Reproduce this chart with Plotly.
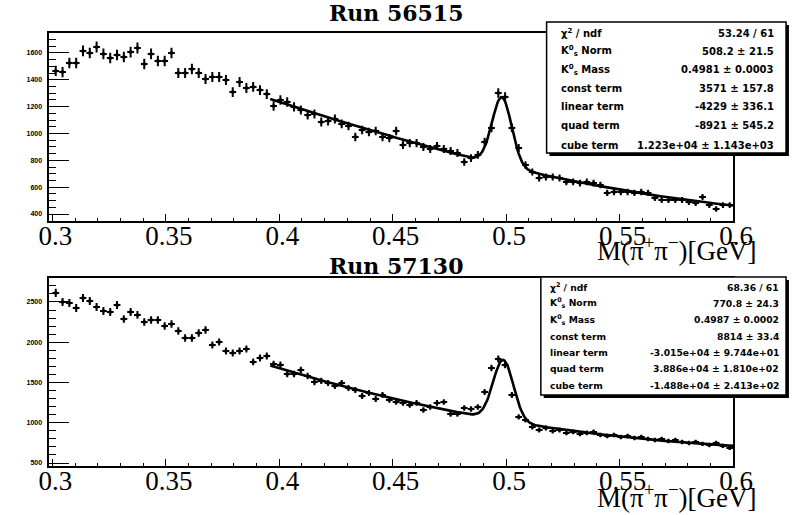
import numpy as np
import plotly.graph_objects as go

W, H = 807, 515

# ---- histogram binning shared by both runs ----
x_lo, x_hi, n_bins = 0.3, 0.6, 100
bin_w = (x_hi - x_lo) / n_bins
centers = x_lo + bin_w * (np.arange(n_bins) + 0.5)

# ---- M(pi+ pi-) spectra, entries per bin ----
counts_56515 = [
    1466, 1458, 1525, 1525, 1615, 1600, 1645, 1593, 1563, 1585,
    1570, 1607, 1637, 1518, 1593, 1540, 1540, 1600, 1451, 1451,
    1481, 1451, 1406, 1421, 1421, 1399, 1309, 1384, 1339, 1347,
    1324, 1294, 1205, 1250, 1235, 1198, 1175, 1138, 1145, 1086,
    1093, 1108, 1071, 1056, 974, 1026, 1011, 1019, 974, 966,
    1019, 914, 929, 929, 899, 884, 907, 884, 870, 855,
    788, 817, 840, 937, 1041, 1302, 1272, 1041, 892, 765,
    713, 668, 676, 676, 668, 639, 639, 631, 639, 631,
    616, 557, 564, 564, 564, 557, 564, 557, 519, 504,
    504, 504, 504, 489, 482, 527, 467, 437, 467, 467,
]
counts_57130 = [
    2612, 2500, 2488, 2425, 2550, 2512, 2438, 2388, 2376, 2463,
    2289, 2376, 2339, 2252, 2276, 2276, 2202, 2227, 2140, 2053,
    2053, 2115, 2152, 1966, 2003, 1891, 1867, 1891, 1916, 1755,
    1804, 1829, 1730, 1718, 1606, 1606, 1655, 1581, 1506, 1519,
    1494, 1457, 1494, 1432, 1407, 1333, 1370, 1295, 1345, 1283,
    1258, 1246, 1221, 1246, 1159, 1196, 1246, 1258, 1109, 1109,
    1184, 1171, 1196, 1382, 1680, 1792, 1718, 1345, 1072, 1034,
    947, 910, 935, 898, 910, 873, 886, 861, 873, 886,
    848, 836, 848, 823, 836, 811, 823, 799, 786, 799,
    774, 786, 761, 749, 761, 737, 724, 749, 712, 687,
]

# ---- fit results (gaussian K0s peak + cubic background) ----
fit_lo, fit_hi = 0.396, 0.6
fit_56515 = dict(norm=508.2, mass=0.4981, sigma=0.0043,
                 pol=[3571.0, -4229.0, -8921.0, 1.223e4])
fit_57130 = dict(norm=770.8, mass=0.4987, sigma=0.0045)

stats_56515 = [
    ("\u03c7<sup>2</sup> / ndf", "53.24 / 61"),
    ("K<sup>0</sup><sub>s</sub> Norm", "508.2 \u00b1 21.5"),
    ("K<sup>0</sup><sub>s</sub> Mass", "0.4981 \u00b1 0.0003"),
    ("const term", "3571 \u00b1 157.8"),
    ("linear term", "-4229 \u00b1 336.1"),
    ("quad term", "-8921 \u00b1 545.2"),
    ("cube term", "1.223e+04 \u00b1 1.143e+03"),
]
stats_57130 = [
    ("\u03c7<sup>2</sup> / ndf", "68.36 / 61"),
    ("K<sup>0</sup><sub>s</sub> Norm", "770.8 \u00b1 24.3"),
    ("K<sup>0</sup><sub>s</sub> Mass", "0.4987 \u00b1 0.0002"),
    ("const term", "8814 \u00b1 33.4"),
    ("linear term", "-3.015e+04 \u00b1 9.744e+01"),
    ("quad term", "3.886e+04 \u00b1 1.810e+02"),
    ("cube term", "-1.488e+04 \u00b1 2.413e+02"),
]

titles = ["Run 56515", "Run 57130"]
x_title = "M(\u03c0<sup>+</sup>\u03c0<sup>\u2212</sup>)[GeV]"


def gauss(x, norm, mass, sigma):
    return norm * np.exp(-0.5 * ((x - mass) / sigma) ** 2)


xf = np.linspace(fit_lo, fit_hi, 400)

# run 56515: evaluate the quoted fit function
p = fit_56515["pol"]
yf_top = (p[0] + p[1] * xf + p[2] * xf ** 2 + p[3] * xf ** 3
          + gauss(xf, fit_56515["norm"], fit_56515["mass"], fit_56515["sigma"]))

# run 57130: least-squares fit of cubic + gaussian shape over the fit window
c2 = np.asarray(counts_57130, float)
sel = (centers >= fit_lo) & (centers <= fit_hi)
xs = centers[sel]
g_shape = gauss(xs, 1.0, fit_57130["mass"], fit_57130["sigma"])
A = np.vstack([np.ones_like(xs), xs, xs ** 2, xs ** 3, g_shape]).T
coef, *_ = np.linalg.lstsq(A, c2[sel], rcond=None)
yf_bot = (coef[0] + coef[1] * xf + coef[2] * xf ** 2 + coef[3] * xf ** 3
          + coef[4] * gauss(xf, 1.0, fit_57130["mass"], fit_57130["sigma"]))


def px(x):
    return x / W


def py(y):
    return 1 - y / H


fig = go.Figure()

for counts, yf, xa, ya in [(counts_56515, yf_top, "x", "y"),
                           (counts_57130, yf_bot, "x2", "y2")]:
    c = np.asarray(counts, float)
    fig.add_trace(go.Scatter(
        x=centers, y=c, mode="markers", xaxis=xa, yaxis=ya,
        marker=dict(size=3, color="black", symbol="square"),
        error_y=dict(type="data", array=np.sqrt(c), thickness=2, width=0, color="black"),
        error_x=dict(type="constant", value=bin_w / 2, thickness=2, width=0, color="black"),
        showlegend=False, hoverinfo="skip"))
    fig.add_trace(go.Scatter(
        x=xf, y=yf, mode="lines", xaxis=xa, yaxis=ya,
        line=dict(color="black", width=2.6), showlegend=False, hoverinfo="skip"))

x_dom = [px(40), px(751)]
x_range = [0.29873, 0.6]
xaxis_style = dict(
    range=x_range, domain=x_dom, showgrid=False, zeroline=False,
    showline=True, linecolor="black", linewidth=2, mirror=True,
    ticks="inside", ticklen=7, tickwidth=1.3, tickcolor="black",
    tick0=0.3, dtick=0.05, ticklabelshift=3, ticklabelstandoff=-10,
    tickfont=dict(family="Liberation Serif", size=27, color="black"),
    minor=dict(dtick=0.01, ticks="inside", ticklen=3, tickwidth=1, tickcolor="black"),
)
yaxis_style = dict(
    showgrid=False, zeroline=False,
    showline=True, linecolor="black", linewidth=2, mirror=True,
    ticks="inside", ticklen=20, tickwidth=1.2, tickcolor="black",
    ticklabelstandoff=4,
    tickfont=dict(family="Liberation Sans", size=7, color="black", weight="bold"),
)

fig.update_layout(
    width=W, height=H, margin=dict(l=0, r=0, t=0, b=0),
    paper_bgcolor="white", plot_bgcolor="white",
    xaxis=dict(**xaxis_style, anchor="y"),
    xaxis2=dict(**xaxis_style, anchor="y2"),
    yaxis=dict(**yaxis_style, anchor="x", domain=[py(221), py(33)], range=[348, 1749],
               dtick=200, tick0=0,
               minor=dict(dtick=50, ticks="inside", ticklen=7, tickwidth=1, tickcolor="black")),
    yaxis2=dict(**yaxis_style, anchor="x2", domain=[py(466), py(278)], range=[463, 2798],
                dtick=500, tick0=0,
                minor=dict(dtick=100, ticks="inside", ticklen=7, tickwidth=1, tickcolor="black")),
)

annotations = []
shapes = []

# panel titles and axis titles
for t, yc in zip(titles, [13, 266]):
    annotations.append(dict(
        x=px(400), y=py(yc), xref="paper", yref="paper", text="<b>%s</b>" % t,
        showarrow=False, xanchor="center", yanchor="middle",
        font=dict(family="DejaVu Serif", size=22, color="black")))
for yc in [249, 496]:
    annotations.append(dict(
        x=px(778), y=py(yc), xref="paper", yref="paper", text=x_title,
        showarrow=False, xanchor="right", yanchor="middle",
        font=dict(family="Liberation Serif", size=27, color="black")))

# stats boxes
boxes = [
    (stats_56515, 557, 806, 22, 153, 570, 796, [33, 51.5, 70, 88.5, 107, 126, 145], 10),
    (stats_57130, 551, 806, 277, 395, 558, 801, [287, 303.3, 319.7, 336, 352.3, 368.7, 385], 9.2),
]
for rows, bx0, bx1, by0, by1, tl, tr, ys, fs in boxes:
    shapes.append(dict(type="rect", xref="paper", yref="paper",
                       x0=px(bx0 + 3), x1=px(bx1 + 3), y0=py(by1 + 3), y1=py(by0 + 3),
                       fillcolor="black", line=dict(width=0), layer="above"))
    shapes.append(dict(type="rect", xref="paper", yref="paper",
                       x0=px(bx0), x1=px(bx1), y0=py(by1), y1=py(by0),
                       fillcolor="white", line=dict(color="black", width=1.5), layer="above"))
    for (lab, val), yy in zip(rows, ys):
        annotations.append(dict(
            x=px(tl), y=py(yy), xref="paper", yref="paper", text="<b>%s</b>" % lab,
            showarrow=False, xanchor="left", yanchor="middle",
            font=dict(family="DejaVu Sans", size=fs, color="black")))
        annotations.append(dict(
            x=px(tr), y=py(yy), xref="paper", yref="paper", text="<b>%s</b>" % val,
            showarrow=False, xanchor="right", yanchor="middle",
            font=dict(family="DejaVu Sans", size=fs, color="black")))

fig.update_layout(annotations=annotations, shapes=shapes)

fig.write_html("out.html")
